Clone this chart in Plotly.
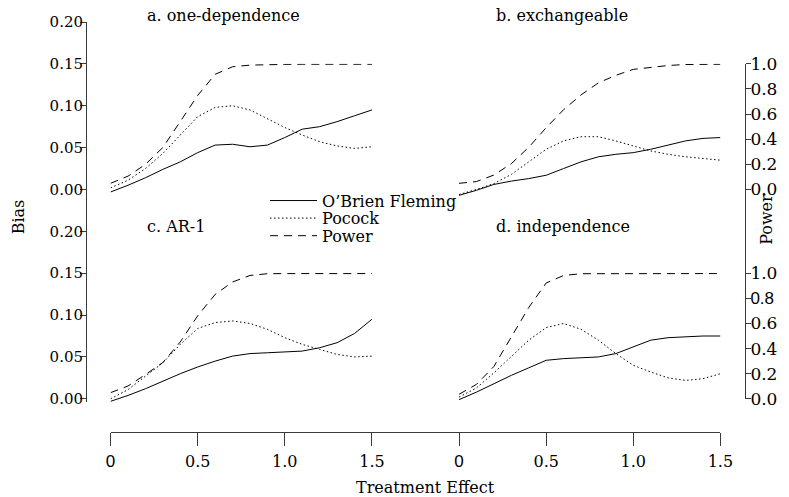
import plotly.graph_objects as go

# ---------------- data ----------------
effect = [0.0, 0.1, 0.2, 0.3, 0.4, 0.5, 0.6, 0.7, 0.8, 0.9, 1.0, 1.1, 1.2, 1.3, 1.4, 1.5]

panel_titles = ["a. one-dependence", "b. exchangeable", "c. AR-1", "d. independence"]

# bias of O'Brien Fleming
obf_a = [-0.003, 0.005, 0.014, 0.024, 0.033, 0.044, 0.053, 0.054, 0.051, 0.053, 0.062, 0.072, 0.075, 0.081, 0.088, 0.095]
obf_b = [-0.007, -0.001, 0.006, 0.010, 0.013, 0.017, 0.025, 0.033, 0.039, 0.042, 0.044, 0.048, 0.053, 0.058, 0.061, 0.062]
obf_c = [-0.003, 0.004, 0.012, 0.021, 0.030, 0.038, 0.045, 0.051, 0.054, 0.055, 0.056, 0.057, 0.061, 0.067, 0.078, 0.095]
obf_d = [-0.001, 0.008, 0.018, 0.028, 0.037, 0.046, 0.048, 0.049, 0.050, 0.054, 0.062, 0.070, 0.073, 0.074, 0.075, 0.075]

# bias of Pocock
poc_a = [0.002, 0.011, 0.025, 0.043, 0.065, 0.087, 0.098, 0.100, 0.095, 0.085, 0.074, 0.065, 0.057, 0.052, 0.049, 0.051]
poc_b = [-0.006, 0.000, 0.007, 0.018, 0.033, 0.048, 0.058, 0.063, 0.063, 0.058, 0.052, 0.046, 0.042, 0.039, 0.037, 0.035]
poc_c = [0.000, 0.011, 0.027, 0.043, 0.065, 0.084, 0.091, 0.093, 0.090, 0.083, 0.073, 0.065, 0.059, 0.053, 0.050, 0.051]
poc_d = [0.002, 0.013, 0.031, 0.050, 0.070, 0.085, 0.090, 0.083, 0.070, 0.054, 0.040, 0.032, 0.025, 0.022, 0.024, 0.030]

# power (right axis)
pow_a = [0.049, 0.106, 0.200, 0.334, 0.541, 0.749, 0.917, 0.977, 0.990, 0.995, 0.996, 0.997, 0.997, 0.997, 0.997, 0.997]
pow_b = [0.049, 0.063, 0.115, 0.206, 0.336, 0.492, 0.635, 0.753, 0.849, 0.909, 0.956, 0.974, 0.987, 0.995, 0.997, 0.997]
pow_c = [0.049, 0.102, 0.193, 0.289, 0.453, 0.661, 0.831, 0.930, 0.982, 0.996, 0.997, 0.997, 0.997, 0.997, 0.997, 0.997]
pow_d = [0.036, 0.115, 0.258, 0.492, 0.727, 0.922, 0.982, 0.996, 0.997, 0.997, 0.997, 0.997, 0.997, 0.997, 0.997, 0.997]

series_names = ["O\u2019Brien Fleming", "Pocock", "Power"]

x_tick_text = ["0", "0.5", "1.0", "1.5"]
bias_tick_text = ["0.00", "0.05", "0.10", "0.15", "0.20"]
power_tick_text = ["0.0", "0.2", "0.4", "0.6", "0.8", "1.0"]

# ---------------- layout of the panel grid ----------------
BIAS_STEP = 0.05
POWER_STEP = 0.2
POWER_TO_BIAS = 0.15          # power 1.0 lines up with bias 0.15
X_SHIFT = 2.0                 # right column offset on the shared x axis
Y_SHIFT = 0.25                # top row offset on the shared bias axis
Y2_SHIFT = Y_SHIFT / POWER_TO_BIAS

panels = [
    (panel_titles[0], obf_a, poc_a, pow_a, 0.0, Y_SHIFT),
    (panel_titles[1], obf_b, poc_b, pow_b, X_SHIFT, Y_SHIFT),
    (panel_titles[2], obf_c, poc_c, pow_c, 0.0, 0.0),
    (panel_titles[3], obf_d, poc_d, pow_d, X_SHIFT, 0.0),
]
# pixel row of each panel title (top row / bottom row)
title_rows_px = [5, 5, 221, 221]

SERIF = "DejaVu Serif"
SANS = "Liberation Sans"
INK = "black"
AXIS = "#3a3a3a"

W, H = 789, 497
ML, MR, MT, MB = 86, 33, 12, 65
PW, PH = W - ML - MR, H - MT - MB

fig = go.Figure()

legend_ids = ["legend", "legend2", "legend3"]
styles = [dict(dash="solid"), dict(dash="1.5px,2.5px"), dict(dash="8px,6px")]

for i, (title, obf, poc, pw, dx, dy) in enumerate(panels):
    xs = [v + dx for v in effect]
    fig.add_trace(go.Scatter(
        x=xs, y=[v + dy for v in obf], mode="lines", name=series_names[0],
        line=dict(color=INK, width=1, **styles[0]), xaxis="x", yaxis="y",
        showlegend=(i == 0), legend=legend_ids[0], hoverinfo="skip"))
    fig.add_trace(go.Scatter(
        x=xs, y=[v + dy for v in poc], mode="lines", name=series_names[1],
        line=dict(color=INK, width=1, **styles[1]), xaxis="x", yaxis="y",
        showlegend=(i == 0), legend=legend_ids[1], hoverinfo="skip"))
    fig.add_trace(go.Scatter(
        x=xs, y=[v + dy / POWER_TO_BIAS for v in pw], mode="lines", name=series_names[2],
        line=dict(color=INK, width=1, **styles[2]), xaxis="x", yaxis="y2",
        showlegend=(i == 0), legend=legend_ids[2], hoverinfo="skip"))

# tick values
x_tickvals, x_ticktext = [], []
for dx in (0.0, X_SHIFT):
    for k, t in enumerate(x_tick_text):
        x_tickvals.append(dx + k * 0.5)
        x_ticktext.append(f'<span style="font-family:{SANS};font-size:17px">{t}</span>' if t == "0" else t)

y_tickvals, y_ticktext = [], []
for dy in (0.0, Y_SHIFT):
    for k, t in enumerate(bias_tick_text):
        y_tickvals.append(dy + k * BIAS_STEP)
        y_ticktext.append(t)

y2_tickvals, y2_ticktext = [], []
for dy in (0.0, Y2_SHIFT):
    for k, t in enumerate(power_tick_text):
        y2_tickvals.append(dy + k * POWER_STEP)
        if dy == 0.0 and t == "0.8":
            y2_ticktext.append(f'<span style="font-family:{SANS}">{t}</span>')
        else:
            y2_ticktext.append(t)

# pixel geometry -> domains
x0_px, x1_px = 111, 731
ybase_px, ytop_px = 398, 12
px_per_bias = (ybase_px - ytop_px) / 0.45
y_low = -0.004
ydom0 = (MT + PH - (ybase_px + (-y_low) * px_per_bias)) / PH
y2top_bias = Y_SHIFT + POWER_TO_BIAS
y2dom1 = (MT + PH - (ybase_px - y2top_bias * px_per_bias)) / PH
y2dom0 = (MT + PH - ybase_px) / PH

fig.update_layout(
    width=W, height=H, autosize=False,
    margin=dict(l=ML, r=MR, t=MT, b=MB, pad=0),
    paper_bgcolor="white", plot_bgcolor="rgba(0,0,0,0)",
    font=dict(family=SERIF, size=15, color=INK),
    xaxis=dict(
        domain=[(x0_px - ML) / PW, (x1_px - ML) / PW], range=[0, 1.5 + X_SHIFT],
        anchor="free", position=0, showgrid=False, zeroline=False,
        showline=True, linecolor=AXIS, linewidth=1,
        ticks="outside", ticklen=13, tickcolor=AXIS, tickwidth=1,
        tickvals=x_tickvals, ticktext=x_ticktext, tickfont=dict(size=16, family=SERIF),
        ticklabelstandoff=2,
    ),
    yaxis=dict(
        domain=[ydom0, 1], range=[y_low, 0.45],
        anchor="free", position=0, showgrid=False, zeroline=False,
        showline=True, linecolor=AXIS, linewidth=1,
        ticks="outside", ticklen=6, tickcolor=AXIS, tickwidth=1,
        tickvals=y_tickvals, ticktext=y_ticktext, tickfont=dict(size=15, family=SERIF),
        ticklabelstandoff=-6,
    ),
    yaxis2=dict(
        domain=[y2dom0, y2dom1], range=[0, y2top_bias / POWER_TO_BIAS],
        anchor="free", position=1, side="right", showgrid=False, zeroline=False,
        showline=True, linecolor=AXIS, linewidth=1,
        ticks="outside", ticklen=5, tickcolor=AXIS, tickwidth=1,
        tickvals=y2_tickvals, ticktext=y2_ticktext, tickfont=dict(size=17, family=SERIF),
        ticklabelstandoff=-4,
    ),
    showlegend=True,
)

leg_common = dict(
    xanchor="left", yanchor="middle", bgcolor="rgba(0,0,0,0)", borderwidth=0,
    font=dict(family=SERIF, size=16, color=INK), itemwidth=47,
    itemclick=False, itemdoubleclick=False,
)
for lid, ypx in zip(legend_ids, (195, 213, 231)):
    fig.update_layout({lid: dict(x=(268 - ML) / PW, y=(MT + PH - ypx) / PH, **leg_common)})

# panel titles (x in data units, y in paper units)
for i, (title, obf, poc, pw, dx, dy) in enumerate(panels):
    fig.add_annotation(
        x=0.2 + dx, y=(MT + PH - title_rows_px[i]) / PH, xref="x", yref="paper",
        text=title, showarrow=False,
        xanchor="left", yanchor="middle", font=dict(family=SERIF, size=16, color=INK))

fig.add_annotation(
    x=(431 - ML) / PW, y=(MT + PH - 489) / PH, xref="paper", yref="paper",
    text="Treatment Effect", showarrow=False, xanchor="center", yanchor="middle",
    font=dict(family=SERIF, size=16, color=INK))
fig.add_annotation(
    x=(17 - ML) / PW, y=(MT + PH - 212) / PH, xref="paper", yref="paper",
    text="Bias", textangle=-90, showarrow=False, xanchor="center", yanchor="middle",
    font=dict(family=SERIF, size=16, color=INK))
fig.add_annotation(
    x=(778 - ML) / PW, y=(MT + PH - 214) / PH, xref="paper", yref="paper",
    text="Power", textangle=-90, showarrow=False, xanchor="center", yanchor="middle",
    font=dict(family=SERIF, size=16, color=INK))

fig.write_html("out.html")
